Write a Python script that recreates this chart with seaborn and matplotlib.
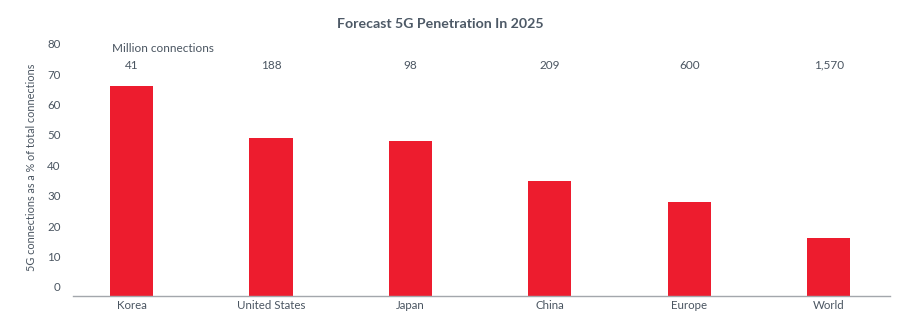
import matplotlib
matplotlib.use("Agg")
import matplotlib.pyplot as plt
import seaborn as sns
import pandas as pd

categories = ["Korea", "United States", "Japan", "China", "Europe", "World"]
penetration = [66, 49, 48, 35, 28, 16]
connections = ["41", "188", "98", "209", "600", "1,570"]
yticks = [0, 10, 20, 30, 40, 50, 60, 70, 80]

sns.set_style("white")
plt.rcParams["font.family"] = ["Lato", "DejaVu Sans"]

TEXT = "#4a5561"
BAR = "#ED1C2E"
FS = 8.3

df = pd.DataFrame({"region": categories, "pct": penetration})

fig = plt.figure(figsize=(9.04, 3.35), dpi=100)
ax = fig.add_axes([0.0808, 0.1164, 0.9037, 0.7702])

sns.barplot(data=df, x="region", y="pct", color=BAR, width=0.31,
            saturation=1, ax=ax, edgecolor="none")

base = -3
for p in ax.patches:
    p.set_height(p.get_height() - base)
    p.set_y(base)

ax.set_ylim(base, 81.9)
ax.set_xlim(-0.42, 5.44)
ax.set_yticks(yticks)
ax.set_yticklabels([str(t) for t in yticks])
ax.tick_params(axis="both", length=0, labelsize=FS, colors=TEXT)
ax.tick_params(axis="y", pad=9)
ax.tick_params(axis="x", pad=3)
ax.set_xlabel("")
ax.set_ylabel("5G connections as a % of total connections", fontsize=7.8, color=TEXT, labelpad=7)

for s in ["top", "right", "left"]:
    ax.spines[s].set_visible(False)
ax.spines["bottom"].set_color("#a3a7ac")
ax.spines["bottom"].set_linewidth(1)

for i, c in enumerate(connections):
    ax.text(i, 73, c, ha="center", va="center", fontsize=8.5, color=TEXT)
ax.text(-0.14, 78.6, "Million connections", ha="left", va="center", fontsize=8.5, color=TEXT)

fig.text(0.487, 0.928, "Forecast 5G Penetration In 2025", ha="center", va="center",
         fontsize=10.2, fontweight="bold", color="#4d5966")

fig.savefig("out.png", dpi=100)
